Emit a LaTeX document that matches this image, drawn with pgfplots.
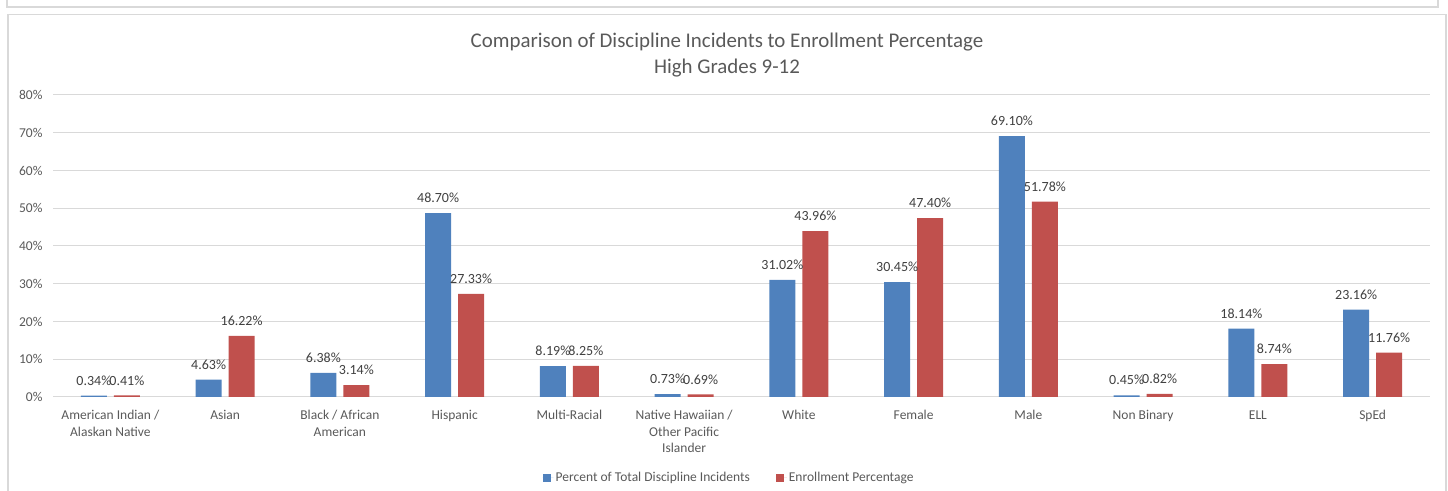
\documentclass[border=0pt]{standalone}
\usepackage{pgfplots}
\pgfplotsset{compat=1.18}
\usepackage{fontspec}
\setmainfont{Carlito}
\definecolor{barblue}{HTML}{4F81BD}
\definecolor{barred}{HTML}{C0504D}
\definecolor{gridgray}{HTML}{D9D9D9}
\definecolor{txtgray}{HTML}{595959}
\definecolor{lblgray}{HTML}{404040}
\definecolor{framegray}{HTML}{D9D9D9}
\begin{document}
\begin{tikzpicture}[x=1bp,y=1bp]
\useasboundingbox (0,0) rectangle (1448,491);
\draw[framegray, line width=1.2bp] (7,491) -- (7,484) -- (1438,484) -- (1438,491);
\draw[framegray, line width=1.2bp] (8,0) -- (8,476.5) -- (1446,476.5) -- (1446,0);
\node[txtgray, font=\fontsize{20.9bp}{26bp}\selectfont, align=center] at (727,436) {Comparison of Discipline Incidents to Enrollment Percentage\\High Grades 9-12};
\begin{axis}[
  at={(53bp,94bp)}, anchor=south west, scale only axis,
  width=1377bp, height=302bp,
  ymin=0, ymax=80, xmin=-0.5, xmax=11.5,
  ytick={0,10,...,80},
  yticklabel={\pgfmathprintnumber{\tick}\%},
  /pgf/number format/assume math mode=true,
  ymajorgrids, grid style={color=gridgray, line width=1bp},
  axis line style={draw=none},
  major tick length=0pt,
  xtick={0,...,11},
  xticklabels={{American Indian /\\Alaskan Native},Asian,{Black / African\\American},Hispanic,Multi-Racial,{Native Hawaiian /\\Other Pacific\\Islander},White,Female,Male,Non Binary,ELL,SpEd},
  x tick label style={align=center, font=\fontsize{13.5bp}{16.5bp}\selectfont, text=txtgray, yshift=-10bp},
  y tick label style={font=\fontsize{13.5bp}{15bp}\selectfont, text=txtgray, xshift=-7bp},
  ybar=7bp, bar width=26bp,
  nodes near coords={\pgfmathprintnumber[fixed,fixed zerofill,precision=2]{\pgfplotspointmeta}\%},
  nodes near coords style={font=\fontsize{14bp}{16bp}\selectfont, text=lblgray, inner sep=0pt, anchor=south, yshift=10bp, /pgf/number format/assume math mode=true},
  legend style={at={(0.491,-0.268)}, anchor=center, legend columns=2, draw=none, fill=none,
    font=\fontsize{13.5bp}{15bp}\selectfont, text=txtgray,
    /tikz/every odd column/.append style={column sep=0bp},
    /tikz/every even column/.append style={column sep=24bp}},
  legend image code/.code={\path (0bp,0bp) -- (11bp,0bp); \fill[#1] (0bp,-4bp) rectangle (8bp,4bp);},
]
\addplot[fill=barblue, draw=none] coordinates {(0,0.34) (1,4.63) (2,6.38) (3,48.70) (4,8.19) (5,0.73) (6,31.02) (7,30.45) (8,69.10) (9,0.45) (10,18.14) (11,23.16)};
\addplot[fill=barred, draw=none] coordinates {(0,0.41) (1,16.22) (2,3.14) (3,27.33) (4,8.25) (5,0.69) (6,43.96) (7,47.40) (8,51.78) (9,0.82) (10,8.74) (11,11.76)};
\legend{Percent of Total Discipline Incidents, Enrollment Percentage}
\end{axis}
\end{tikzpicture}
\end{document}
